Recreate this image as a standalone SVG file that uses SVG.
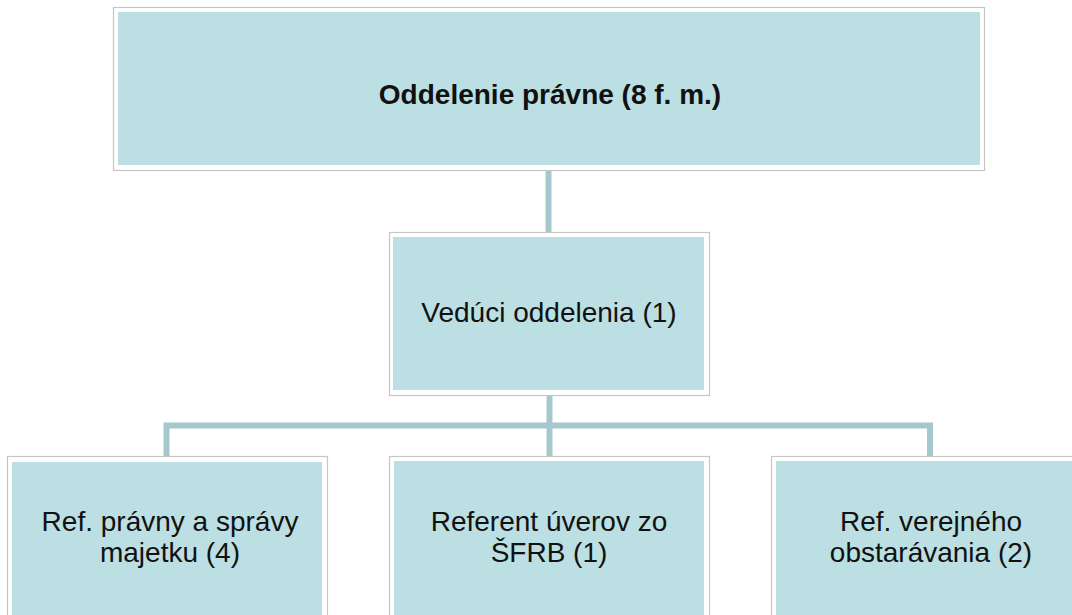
<svg xmlns="http://www.w3.org/2000/svg" width="1072" height="615" viewBox="0 0 1072 615">
<style>
.frame{fill:#ffffff;stroke:#c6c6c6;stroke-width:1.2}
.fill{fill:#bbdfe2}
.t{font-family:"Liberation Sans",Arial,sans-serif;font-size:28px;fill:#111111;text-anchor:middle}
.b{font-weight:bold}
.c{fill:none;stroke:#a4c8cb;stroke-width:6;stroke-linejoin:miter}
</style>
<rect width="1072" height="615" fill="#ffffff"/>
<g id="connectors">
<path class="c" d="M548.5 170 V232"/>
<path class="c" d="M549.5 395 V456"/>
<path class="c" d="M166.5 456 V425.5 H930 V456"/>
</g>
<g id="n0">
<rect class="frame" x="113.5" y="7.5" width="871" height="163"/>
<rect class="fill" x="118" y="12" width="862" height="153"/>
<text class="t b" x="550" y="104">Oddelenie právne (8 f. m.)</text>
</g>
<g id="n1">
<rect class="frame" x="389.5" y="232.5" width="320" height="163"/>
<rect class="fill" x="393" y="237" width="311" height="153"/>
<text class="t" x="549" y="322">Vedúci oddelenia (1)</text>
</g>
<g id="n2">
<rect class="frame" x="7.5" y="456.5" width="320" height="163"/>
<rect class="fill" x="12" y="462" width="310" height="160"/>
<text class="t" x="170" y="531">Ref. právny a správy</text>
<text class="t" x="170" y="562">majetku (4)</text>
</g>
<g id="n3">
<rect class="frame" x="389.5" y="456.5" width="320" height="163"/>
<rect class="fill" x="394" y="461" width="310" height="160"/>
<text class="t" x="549" y="531">Referent úverov zo</text>
<text class="t" x="549" y="562">ŠFRB (1)</text>
</g>
<g id="n4">
<rect class="frame" x="771.5" y="456.5" width="320" height="163"/>
<rect class="fill" x="776" y="461" width="310" height="160"/>
<text class="t" x="931" y="531">Ref. verejného</text>
<text class="t" x="931" y="562">obstarávania (2)</text>
</g>
</svg>
